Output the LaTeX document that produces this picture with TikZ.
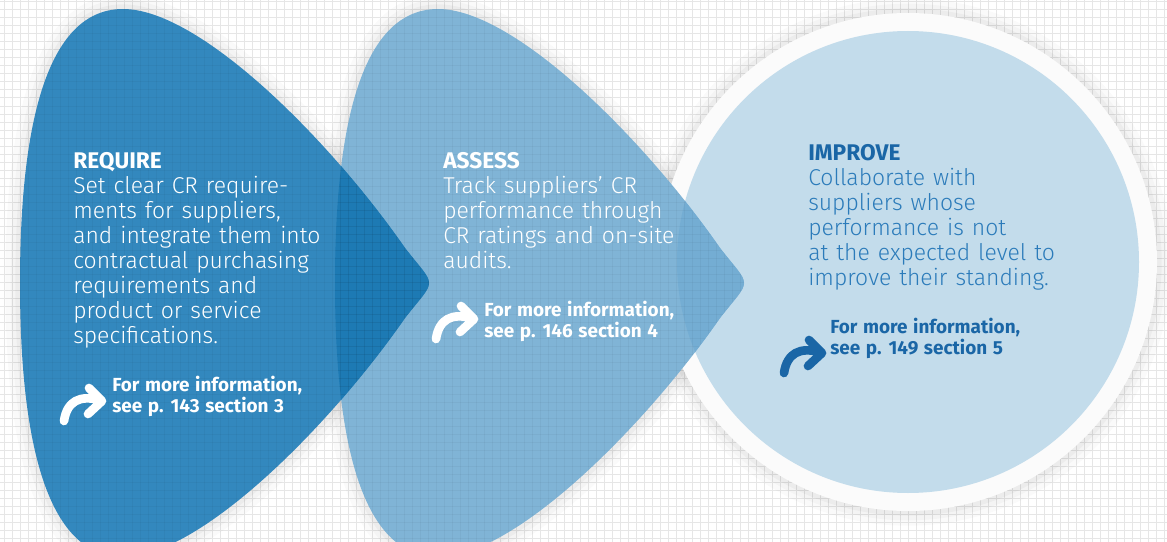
\documentclass[tikz,border=0pt]{standalone}
\usepackage{fontspec}
\setmainfont{Fira Sans}[UprightFont={* Light},BoldFont={* Bold},WordSpace=1.25]
\usetikzlibrary{positioning}

\definecolor{gridgray}{HTML}{E6E6E6}
\definecolor{dropdark}{HTML}{3388BE}
\definecolor{dropboth}{HTML}{1D7AB4}
\definecolor{droplight}{HTML}{80B4D6}
\definecolor{dropinring}{HTML}{74ADD3}
\definecolor{ringfill}{HTML}{C3DCEB}
\definecolor{ringedge}{HTML}{FBFBFB}
\definecolor{improvehead}{HTML}{1A66A6}
\definecolor{improvetext}{HTML}{2B7BBA}

% forma a goccia (px, y verso il basso)
\newcommand{\dropshape}{(123,9) .. controls (200,9) and (330,140) .. (405,248)
  .. controls (437,289) and (437,277) .. (405,318)
  .. controls (330,426) and (200,557) .. (123,557)
  .. controls (40,557) and (20,420) .. (20,283)
  .. controls (20,146) and (40,9) .. (123,9) -- cycle}
\newcommand{\paperlines}[1]{%
  \foreach \gx in {4,12,...,1167} \draw[#1] (\gx,0) -- (\gx,542);
  \foreach \gy in {2,10,...,542} \draw[#1] (0,\gy) -- (1167,\gy);}
\newcommand{\headfont}{\fontsize{17}{18.75}\bfseries}

\tikzset{
  gridline/.style={draw=gridgray, line width=0.75pt},
  gridover/.style={draw=black, opacity=0.035, line width=0.75pt},
  % ancora sulla linea di base dell'ultima riga
  blocktext/.style={anchor=base west, inner sep=0pt, align=left,
    font=\fontsize{17.2}{18.75}\selectfont},
  infotext/.style={anchor=base west, inner sep=0pt, align=left,
    font=\fontsize{14.2}{15.4}\selectfont\bfseries},
  morearrow/.pic={
    \draw[line width=6.5pt, line cap=round] (-38,20) .. controls (-35,0) and (-22,-6) .. (-3,-1);
    \draw[line width=6.5pt, line cap=round, line join=round] (-13,-13) -- (0,0) -- (-14,13);
  }
}

\begin{document}
\begin{tikzpicture}[x=0.75pt,y=-0.75pt]
  % Fondo
  \clip (0,0) rectangle (1167,542);
  \fill[white] (0,0) rectangle (1167,542);
  \paperlines{gridline}
  % Ombre
  \foreach \w/\o in {22/0.02,14/0.025,7/0.03} {
    \draw[black, opacity=\o, line width=\w pt] (908,262) circle[radius=249];
    \draw[black, opacity=\o, line width=\w pt] \dropshape;
    \draw[black, opacity=\o, line width=\w pt, shift={(315,0)}] \dropshape;
  }
  % Cerchio
  \fill[ringedge] (908,262) circle[radius=249];
  \fill[ringfill] (908,262) circle[radius=231];
  % Gocce
  \fill[droplight, shift={(315,0)}] \dropshape;
  \begin{scope}
    \clip (908,262) circle[radius=231];
    \fill[dropinring, shift={(315,0)}] \dropshape;
  \end{scope}
  \fill[dropdark] \dropshape;
  \begin{scope}
    \clip[shift={(315,0)}] \dropshape;
    \fill[dropboth] \dropshape;
  \end{scope}
  \begin{scope}
    \clip \dropshape;
    \paperlines{gridover}
  \end{scope}
  \begin{scope}
    \clip[shift={(315,0)}] \dropshape;
    \paperlines{gridover}
  \end{scope}
  % Testi
  \node (require) [blocktext, text=white] at (73,343)
    {{\headfont REQUIRE}\\Set clear CR require-\\ments for suppliers,\\and integrate them into\\contractual purchasing\\requirements and\\product or service\\specifications.};
  \node (assess) [blocktext, text=white] at (443,268)
    {{\headfont ASSESS}\\Track suppliers’ CR\\performance through\\CR ratings and on-site\\audits.};
  \node (improve) [blocktext, text=improvetext] at (808,285)
    {{\headfont\color{improvehead}IMPROVE}\\Collaborate with\\suppliers whose\\performance is not\\at the expected level to\\improve their standing.};
  % Rimandi
  \pic (reqarrow) [white] at (102,401) {morearrow};
  \node (reqinfo) [infotext, text=white] at (112,412) {For more information,\\see p. 143 section 3};
  \pic (assarrow) [white] at (474,319) {morearrow};
  \node (assinfo) [infotext, text=white] at (484,337) {For more information,\\see p. 146 section 4};
  \pic (imparrow) [improvehead] at (822,353) {morearrow};
  \node (impinfo) [infotext, text=improvehead] at (830,354) {For more information,\\see p. 149 section 5};
\end{tikzpicture}
\end{document}
